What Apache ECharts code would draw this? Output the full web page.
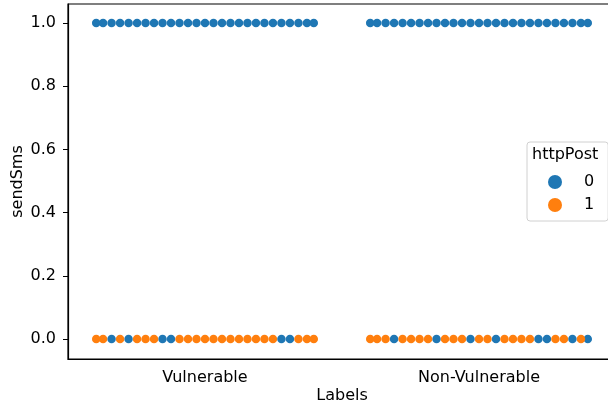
<!DOCTYPE html>
<html>
<head>
<meta charset="utf-8">
<script src="https://cdn.jsdelivr.net/npm/echarts@6/dist/echarts.min.js"></script>
<style>html,body{margin:0;padding:0;background:#fff}#c{width:608px;height:414px}</style>
</head>
<body>
<div id="c"></div>
<script>
const categories = ['Vulnerable', 'Non-Vulnerable'];
const hueLevels = ['0', '1'];
const hueColors = ['#1f77b4', '#ff7f0e'];
const yTicks = [0.0, 0.2, 0.4, 0.6, 0.8, 1.0];
// sendSms values and httpPost (hue) values of each observed point, in swarm order left to right
const vulnSendSmsOne = [0,0,0,0,0,0,0,0,0,0,0,0,0,0,0,0,0,0,0,0,0,0,0,0,0,0,0];
const vulnSendSmsZero = [1,1,0,1,0,1,1,1,0,0,1,1,1,1,1,1,1,1,1,1,1,1,0,0,1,1,1];
const nonVulnSendSmsOne = [0,0,0,0,0,0,0,0,0,0,0,0,0,0,0,0,0,0,0,0,0,0,0,0,0,0,0];
const nonVulnSendSmsZero = [1,1,1,0,1,1,1,1,0,1,1,1,0,1,1,0,1,1,1,1,0,0,1,1,0,1,0];

const groups = [
  {cat: 0, y: 1, hues: vulnSendSmsOne},
  {cat: 0, y: 0, hues: vulnSendSmsZero},
  {cat: 1, y: 1, hues: nonVulnSendSmsOne},
  {cat: 1, y: 0, hues: nonVulnSendSmsZero}
];

// swarm layout: points spread symmetrically, clamped to the band width
const step = 0.031, halfWidth = 0.397;
const seriesData = [[], []];
groups.forEach(g => {
  const n = g.hues.length;
  g.hues.forEach((h, i) => {
    let off = (i - (n - 1) / 2) * step;
    off = Math.max(-halfWidth, Math.min(halfWidth, off));
    seriesData[h].push([g.cat + off, g.y]);
  });
});

const font = 'DejaVu Sans';
const chart = echarts.init(document.getElementById('c'), null, {renderer: 'canvas'});
chart.setOption({
  animation: false,
  grid: {left: 68, top: 4, width: 548, height: 355, show: true, borderColor: '#000', borderWidth: 1.2,
         outerBoundsMode: 'none', containLabel: false},
  xAxis: [
    {type: 'category', data: categories, boundaryGap: true,
     name: 'Labels', nameLocation: 'middle', nameGap: 29, nameMoveOverlap: false,
     nameTextStyle: {fontFamily: font, fontSize: 16, color: '#000'},
     axisLine: {onZero: false, lineStyle: {color: '#000', width: 1.2}},
     axisTick: {alignWithLabel: true, length: 5, lineStyle: {color: '#000'}},
     axisLabel: {fontFamily: font, fontSize: 16, color: '#000', margin: 11},
     splitLine: {show: false}},
    {type: 'value', min: -0.5, max: 1.5, show: false, position: 'bottom',
     axisLine: {onZero: false}}
  ],
  yAxis: {type: 'value', min: -0.0633, max: 1.0601,
    name: 'sendSms', nameLocation: 'middle', nameGap: 42, nameMoveOverlap: false,
    nameTextStyle: {fontFamily: font, fontSize: 16, color: '#000'},
    axisLine: {show: true, onZero: false, lineStyle: {color: '#000', width: 1.2}},
    axisTick: {show: true, length: 5, customValues: yTicks, lineStyle: {color: '#000'}},
    axisLabel: {fontFamily: font, fontSize: 16, color: '#000', margin: 12,
      customValues: yTicks, formatter: v => Number(v).toFixed(1)},
    splitLine: {show: false}},
  legend: {
    orient: 'vertical', left: 527, top: 142,
    data: hueLevels.map(h => ({name: h, icon: 'circle'})),
    itemWidth: 14, itemHeight: 14, itemGap: 7,
    padding: [32, 14, 8, 21],
    backgroundColor: '#fff', borderColor: '#d0d0d0', borderWidth: 1, borderRadius: 3,
    textStyle: {fontFamily: font, fontSize: 16, color: '#000', padding: [0, 0, 0, 17]}
  },
  graphic: [{type: 'text', left: 532, top: 147, z: 100,
    style: {text: 'httpPost', fontFamily: font, fontSize: 16, fill: '#000'}}],
  series: hueLevels.map((h, k) => ({
    name: h, type: 'scatter', xAxisIndex: 1, symbol: 'circle', symbolSize: 8.5,
    itemStyle: {color: hueColors[k], opacity: 1},
    data: seriesData[k]
  }))
});
</script>
</body>
</html>
